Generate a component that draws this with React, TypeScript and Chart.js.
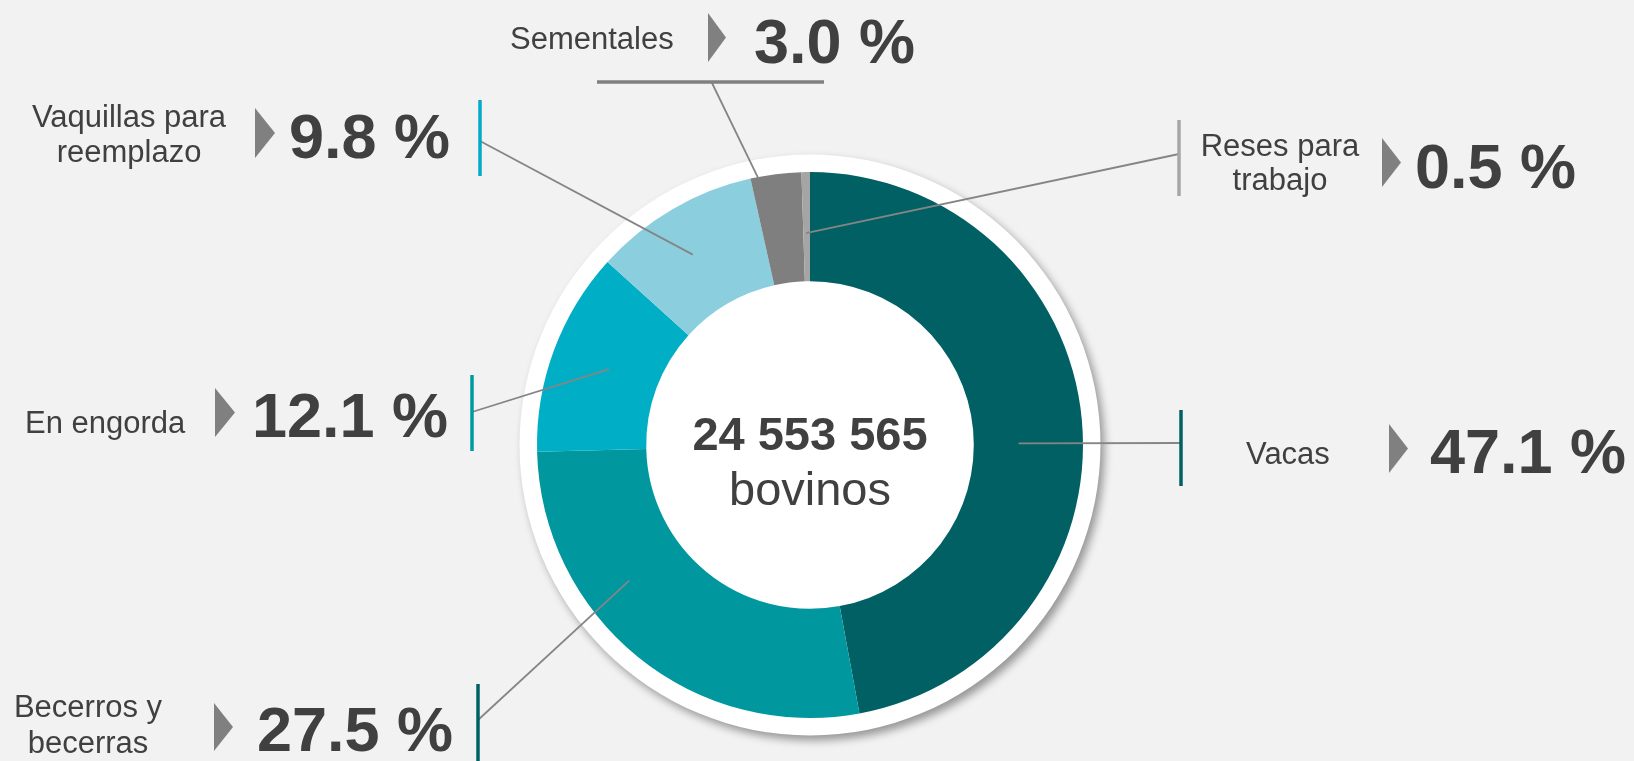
import React, { useEffect, useRef } from "react";
import { Chart, registerables } from "chart.js";

Chart.register(...registerables);

// ---- data ----
const categories = [
  "Vacas",
  "Becerros y becerras",
  "En engorda",
  "Vaquillas para reemplazo",
  "Sementales",
  "Reses para trabajo",
];
const labelLines = [
  ["Vacas"],
  ["Becerros y", "becerras"],
  ["En engorda"],
  ["Vaquillas para", "reemplazo"],
  ["Sementales"],
  ["Reses para", "trabajo"],
];
const values = [47.1, 27.5, 12.1, 9.8, 3.0, 0.5];
const totalLabel = "24 553 565";
const unitLabel = "bovinos";

// ---- styles ----
const sliceColors = ["#006064", "#00979e", "#00afc6", "#8bcfdf", "#7f7f7f", "#a5a5a5"];
const barColors = ["#006064", "#006064", "#009aa0", "#00abc7", "#808080", "#a6a6a6"];
const TEXT = "#404040";
const FONT = '"Liberation Sans", Arial, Helvetica, sans-serif';

// ---- annotation layout (label placement) ----
type Lay = {
  f: number; g: number;
  bar: [number, number, number, number];
  lead: [number, number];
  align: CanvasTextAlign; tx: number; ty: number[];
  tri: [number, number, number, number];
  px: number; py: number;
};
const layout: Lay[] = [
  { f: 0.528, g: 0.41, bar: [1181, 410, 1181, 486], lead: [1181, 443], align: "left", tx: 1246, ty: [464], tri: [1389, 424, 1408, 473], px: 1430, py: 473 },
  { f: 0.642, g: 0.57, bar: [478, 684, 478, 765], lead: [478, 720], align: "center", tx: 88, ty: [717, 753], tri: [214, 703, 233, 751], px: 257, py: 751 },
  { f: 0.508, g: 0.467, bar: [472, 375, 472, 451], lead: [472, 412], align: "left", tx: 25, ty: [433], tri: [215, 388, 235, 437], px: 252, py: 437 },
  { f: 0.461, g: 0.547, bar: [480, 100, 480, 176], lead: [480, 141], align: "center", tx: 129, ty: [127, 162], tri: [255, 108, 275, 158], px: 289, py: 158 },
  { f: 0.15, g: 0.99, bar: [597, 82, 824, 82], lead: [712, 83], align: "left", tx: 510, ty: [49], tri: [708, 13, 726, 62], px: 754, py: 63 },
  { f: 0.4, g: 0.44, bar: [1179, 120, 1179, 196], lead: [1179, 154], align: "center", tx: 1280, ty: [156, 190], tri: [1382, 138, 1401, 187], px: 1415, py: 188 },
];

const W = 1634;
const H = 761;

const ringPlugin = {
  id: "ringBack",
  beforeDatasetsDraw(chart: any) {
    const arc = chart.getDatasetMeta(0).data[0];
    if (!arc) return;
    const { x, y, outerRadius } = arc.getProps(["x", "y", "outerRadius"], true);
    const ctx = chart.ctx;
    ctx.save();
    ctx.shadowColor = "rgba(0,0,0,0.38)";
    ctx.shadowBlur = 9;
    ctx.shadowOffsetX = 4;
    ctx.shadowOffsetY = 5;
    ctx.fillStyle = "#ffffff";
    ctx.beginPath();
    ctx.arc(x, y, outerRadius * 1.064, 0, Math.PI * 2);
    ctx.fill();
    ctx.restore();
  },
};

const annotPlugin = {
  id: "annot",
  afterDatasetsDraw(chart: any) {
    const meta = chart.getDatasetMeta(0);
    const ctx: CanvasRenderingContext2D = chart.ctx;
    ctx.save();
    const first = meta.data[0];
    const c = first.getProps(["x", "y"], true);

    // center text
    ctx.fillStyle = TEXT;
    ctx.textAlign = "center";
    ctx.textBaseline = "alphabetic";
    ctx.font = `bold 47px ${FONT}`;
    ctx.fillText(totalLabel, c.x, c.y + 5);
    ctx.font = `47px ${FONT}`;
    ctx.fillText(unitLabel, c.x, c.y + 60);

    meta.data.forEach((el: any, i: number) => {
      const L = layout[i];
      if (!L) return;
      const p = el.getProps(["x", "y", "startAngle", "endAngle", "innerRadius", "outerRadius"], true);
      const a = p.startAngle + L.f * (p.endAngle - p.startAngle);
      const r = p.innerRadius + L.g * (p.outerRadius - p.innerRadius);
      const ax = p.x + r * Math.cos(a);
      const ay = p.y + r * Math.sin(a);

      // leader
      ctx.strokeStyle = "#858585";
      ctx.lineWidth = 1.8;
      ctx.beginPath();
      ctx.moveTo(L.lead[0], L.lead[1]);
      ctx.lineTo(ax, ay);
      ctx.stroke();

      // bar
      ctx.strokeStyle = barColors[i];
      ctx.lineWidth = 3.5;
      ctx.beginPath();
      ctx.moveTo(L.bar[0], L.bar[1]);
      ctx.lineTo(L.bar[2], L.bar[3]);
      ctx.stroke();

      // category text
      ctx.fillStyle = TEXT;
      ctx.font = `31px ${FONT}`;
      ctx.textAlign = L.align;
      labelLines[i].forEach((line, k) => {
        ctx.fillText(line, L.tx, L.ty[k]);
      });

      // triangle
      const [x1, y1, x2, y2] = L.tri;
      ctx.fillStyle = "#808080";
      ctx.beginPath();
      ctx.moveTo(x1, y1);
      ctx.lineTo(x2, (y1 + y2) / 2);
      ctx.lineTo(x1, y2);
      ctx.closePath();
      ctx.fill();

      // percentage
      ctx.fillStyle = TEXT;
      ctx.font = `bold 63px ${FONT}`;
      ctx.textAlign = "left";
      ctx.fillText(`${values[i].toFixed(1)} %`, L.px, L.py);
    });
    ctx.restore();
  },
};

export default function App() {
  const ref = useRef<HTMLCanvasElement | null>(null);
  useEffect(() => {
    document.body.style.margin = "0";
    document.body.style.background = "#f2f2f2";
    if (!ref.current) return;
    const chart = new Chart(ref.current, {
      type: "doughnut",
      data: {
        labels: categories,
        datasets: [
          {
            data: values,
            backgroundColor: sliceColors,
            borderWidth: 0,
            hoverOffset: 0,
          },
        ],
      },
      options: {
        responsive: false,
        animation: false,
        cutout: "60%",
        layout: { padding: { left: 537, top: 172, right: 551, bottom: 43 } },
        plugins: {
          legend: { display: false },
          tooltip: { enabled: false },
        },
        events: [],
      },
      plugins: [ringPlugin, annotPlugin],
    });
    return () => chart.destroy();
  }, []);
  return (
    <div style={{ width: W, height: H, background: "#f2f2f2", overflow: "hidden" }}>
      <canvas ref={ref} width={W} height={H} style={{ display: "block" }} />
    </div>
  );
}
